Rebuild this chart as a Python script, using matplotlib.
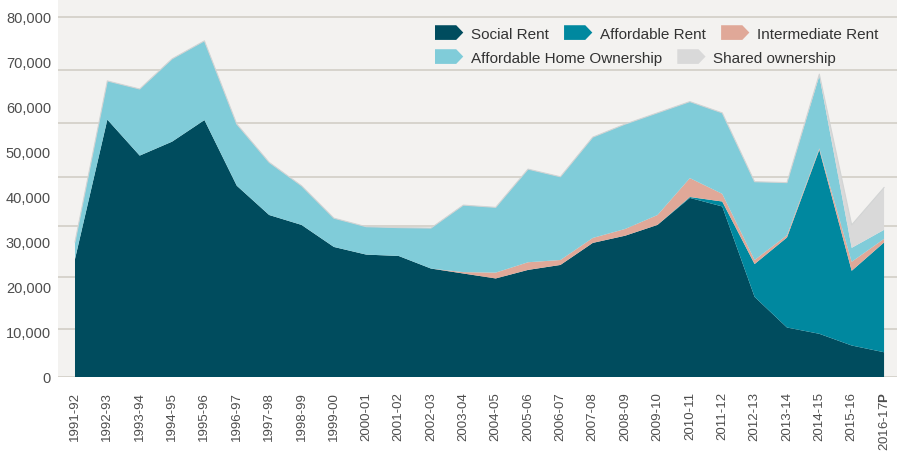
import matplotlib
matplotlib.use("Agg")
import matplotlib.pyplot as plt
import numpy as np
from matplotlib.patches import Patch, Polygon
from matplotlib.legend_handler import HandlerPatch
from matplotlib.ticker import FuncFormatter

plt.rcParams['font.family'] = ['Liberation Sans', 'DejaVu Sans']
plt.rcParams['mathtext.fontset'] = 'custom'
plt.rcParams['mathtext.rm'] = 'Liberation Sans'
plt.rcParams['mathtext.bf'] = 'Liberation Sans:bold'

years = ["1991-92", "1992-93", "1993-94", "1994-95", "1995-96", "1996-97", "1997-98",
         "1998-99", "1999-00", "2000-01", "2001-02", "2002-03", "2003-04", "2004-05",
         "2005-06", "2006-07", "2007-08", "2008-09", "2009-10", "2010-11", "2011-12",
         "2012-13", "2013-14", "2014-15", "2015-16", "2016-17$\\mathbf{P}$"]

social_rent = [26200, 57200, 49200, 52300, 57100, 42500, 36000, 33800, 28900, 27200,
               26900, 24100, 23000, 21900, 23800, 24900, 29800, 31400, 33800, 39800,
               37900, 17800, 11000, 9600, 7000, 5500]
affordable_rent = [0, 0, 0, 0, 0, 0, 0, 0, 0, 0,
                   0, 0, 0, 0, 0, 0, 0, 0, 0, 200,
                   1100, 7300, 20000, 40900, 16600, 24400]
intermediate_rent = [0, 0, 0, 0, 0, 0, 0, 0, 0, 0,
                     0, 0, 300, 1300, 1700, 1100, 1100, 1500, 2200, 4200,
                     1700, 900, 500, 300, 2000, 800]
affordable_home_ownership = [3800, 8600, 14800, 18400, 17600, 13700, 11700, 8700, 6400, 6200,
                             6300, 9000, 14900, 14500, 20700, 18500, 22400, 23300, 22700, 17000,
                             18000, 17400, 11700, 16200, 3100, 2000]
shared_ownership = [0, 0, 0, 0, 0, 0, 0, 0, 0, 0,
                    0, 0, 0, 0, 0, 0, 0, 0, 0, 0,
                    0, 0, 0, 300, 5100, 9400]

series_names = ["Social Rent", "Affordable Rent", "Intermediate Rent",
                "Affordable Home Ownership", "Shared ownership"]
colors = ["#004c5e", "#00889f", "#e0a898", "#80ccd9", "#d9d9d9"]

y_ticks = [0, 10000, 20000, 30000, 40000, 50000, 60000, 70000, 80000]
grid_levels = [0, 10700, 22200, 33500, 44400, 56400, 68200, 80000]

W, H = 904, 452
fig = plt.figure(figsize=(W / 100, H / 100), dpi=100)
fig.patch.set_facecolor("white")
left, right, bottom_px, top_px = 58, 897, 378, 0
ax = fig.add_axes([left / W, (H - bottom_px) / H, (right - left) / W, (bottom_px - top_px) / H])
ax.set_facecolor("#f3f2f0")

x = np.arange(len(years))
ax.set_xlim(-0.525, 25.4)
ax.set_ylim(0, 84000)

for g in grid_levels:
    ax.axhline(g, color="#d5d1ca", lw=1.3, zorder=0.5)

data = [social_rent, affordable_rent, intermediate_rent, affordable_home_ownership, shared_ownership]
ax.stackplot(x, *data, colors=colors, linewidth=0, zorder=2)
total = np.sum(np.array(data), axis=0)
ax.plot(x, total, color="#d2d4d4", lw=0.8, zorder=2.5)

for s in ax.spines.values():
    s.set_visible(False)

ax.set_yticks(y_ticks)
ax.yaxis.set_major_formatter(FuncFormatter(lambda v, p: f"{int(v):,}"))
ax.set_xticks(x)
ax.set_xticklabels(years, rotation=90, ha="center", va="top")
ax.tick_params(axis="y", length=0, pad=5, labelsize=10.5, labelcolor="#4d4d4d")
ax.tick_params(axis="x", length=0, pad=10, labelsize=9.5, labelcolor="#4d4d4d")


class ArrowHandler(HandlerPatch):
    def create_artists(self, legend, orig_handle, xdescent, ydescent, width, height, fontsize, trans):
        tip = width * 0.25
        pts = [(-xdescent, -ydescent), (-xdescent + width - tip, -ydescent),
               (-xdescent + width, -ydescent + height / 2),
               (-xdescent + width - tip, -ydescent + height), (-xdescent, -ydescent + height)]
        p = Polygon(pts, closed=True, facecolor=orig_handle.get_facecolor(), edgecolor="none",
                    transform=trans)
        return [p]


handles = [Patch(facecolor=c, label=n) for c, n in zip(colors, series_names)]
common = dict(frameon=False, fontsize=11, handlelength=1.85, handleheight=1.1,
              handletextpad=0.5, columnspacing=1.0, borderpad=0, borderaxespad=0,
              loc="center left", labelcolor="#333333",
              handler_map={Patch: ArrowHandler()})
leg1 = fig.legend(handles=handles[:3], ncol=3,
                  bbox_to_anchor=(435 / W, 1 - 34 / H), **common)
leg2 = fig.legend(handles=handles[3:], ncol=2,
                  bbox_to_anchor=(435 / W, 1 - 58 / H), **common)

fig.savefig("out.png", dpi=100)
